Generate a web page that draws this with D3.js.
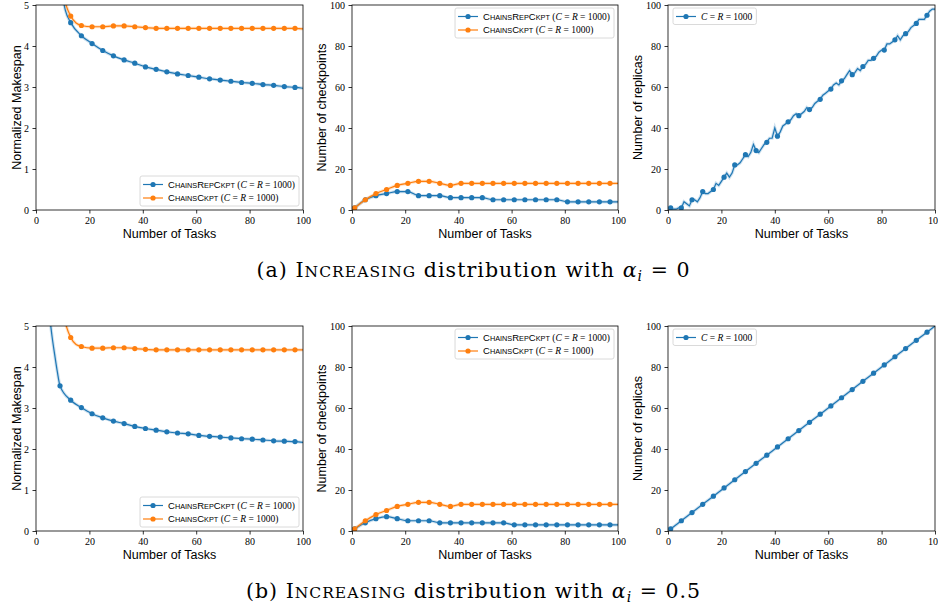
<!DOCTYPE html>
<html>
<head>
<meta charset="utf-8">
<script src="https://cdn.jsdelivr.net/npm/d3@7"></script>
<style>
  body { margin: 0; background: #fff; }
  svg { display: block; }
  .tick text { font-family: "Liberation Serif", serif; font-size: 10px; fill: #000; }
  .tick line { stroke: #000; stroke-width: 0.8; }
</style>
</head>
<body>
<svg id="fig" width="938" height="609"></svg>
<script>
"use strict";

// ---- data ----
var xTicks = [0, 20, 40, 60, 80, 100];
var makespanTicks = [0, 1, 2, 3, 4, 5];
var countTicks = [0, 20, 40, 60, 80, 100];

// (a) alpha_i = 0, normalized makespan
var spanRepTasksA = [9, 11, 13, 17, 21, 25, 29, 33, 37, 41, 45, 49, 53, 57, 61, 65, 69, 73, 77, 81, 85, 89, 93, 97, 100];
var spanRepA = [5.6, 4.87, 4.57, 4.25, 4.06, 3.89, 3.76, 3.66, 3.58, 3.49, 3.43, 3.37, 3.32, 3.28, 3.24, 3.20, 3.17, 3.14, 3.11, 3.09, 3.06, 3.04, 3.01, 2.99, 2.97];
var spanCkptTasksA = [9, 11, 13, 15, 17, 21, 25, 29, 33, 37, 41, 45, 49, 53, 57, 61, 65, 69, 73, 77, 81, 85, 89, 93, 97, 100];
var spanCkptA = [5.8, 5.06, 4.73, 4.56, 4.50, 4.47, 4.47, 4.49, 4.49, 4.47, 4.45, 4.43, 4.43, 4.43, 4.43, 4.43, 4.43, 4.43, 4.43, 4.43, 4.43, 4.43, 4.43, 4.43, 4.43, 4.42];

// (b) alpha_i = 0.5, normalized makespan
var spanRepTasksB = [5, 6, 7, 8, 9, 13, 17, 21, 25, 29, 33, 37, 41, 45, 49, 53, 57, 61, 65, 69, 73, 77, 81, 85, 89, 93, 97, 100];
var spanRepB = [5.3, 4.75, 4.3, 3.88, 3.54, 3.19, 3.01, 2.86, 2.76, 2.68, 2.62, 2.55, 2.50, 2.46, 2.42, 2.39, 2.37, 2.33, 2.31, 2.29, 2.27, 2.25, 2.24, 2.22, 2.20, 2.19, 2.18, 2.16];
var spanCkptTasksB = [9, 11, 13, 15, 17, 21, 25, 29, 33, 37, 41, 45, 49, 53, 57, 61, 65, 69, 73, 77, 81, 85, 89, 93, 97, 100];
var spanCkptB = [5.8, 5.08, 4.72, 4.55, 4.50, 4.46, 4.46, 4.47, 4.47, 4.45, 4.43, 4.42, 4.42, 4.42, 4.42, 4.42, 4.42, 4.42, 4.42, 4.42, 4.42, 4.42, 4.42, 4.42, 4.42, 4.42];

// checkpoints, sampled at the marker tasks
var markTasks = [1, 5, 9, 13, 17, 21, 25, 29, 33, 37, 41, 45, 49, 53, 57, 61, 65, 69, 73, 77, 81, 85, 89, 93, 97, 100];
var ckptRepA = [1, 5, 7, 8, 9, 9, 7, 7, 7, 6, 6, 6, 6, 5, 5, 5, 5, 5, 5, 5, 4, 4, 4, 4, 4, 4];
var ckptCkptA = [1, 5, 8, 10, 12, 13, 14, 14, 13, 12, 13, 13, 13, 13, 13, 13, 13, 13, 13, 13, 13, 13, 13, 13, 13, 13];
var ckptRepB = [1, 4, 6, 7, 6, 5, 5, 5, 4, 4, 4, 4, 4, 4, 4, 3, 3, 3, 3, 3, 3, 3, 3, 3, 3, 3];
var ckptCkptB = [1, 5, 8, 10, 12, 13, 14, 14, 13, 12, 13, 13, 13, 13, 13, 13, 13, 13, 13, 13, 13, 13, 13, 13, 13, 13];

// replicas
var allTasks = d3.range(1, 101);
var replicasA = [1, 0.4, 0.4, 1, 1, 4, 3, 2, 5, 5, 4, 6, 9, 8, 8, 9, 10, 13, 12, 14,
                 16, 18, 16, 18, 22, 22, 23, 25, 27, 26, 28, 32, 29, 28, 30, 32, 33, 35, 35, 40,
                 36, 38, 41, 42, 43, 44, 46, 47, 46, 47, 48, 50, 49, 50, 52, 53, 54, 56, 57, 58,
                 59, 61, 62, 61, 63, 64, 66, 68, 66, 67, 69, 68, 70, 71, 73, 73, 74, 75, 77, 78,
                 78, 81, 81, 82, 83, 85, 83, 85, 86, 87, 89, 90, 91, 93, 93, 93, 95, 97, 98, 98];
var replicasB = [1, 5, 9, 13, 17, 21, 25, 29, 33, 37, 41, 45, 49, 53, 57, 61, 65, 69, 73, 77, 81, 85, 89, 93, 97, 100];

var blue = "#1f77b4", orange = "#ff7f0e";
var repLabel = { caps: "ChainsRepCkpt", math: true };
var ckptLabel = { caps: "ChainsCkpt", math: true };
var mathOnly = { caps: null, math: true };

// ---- layout ----
var svg = d3.select("#fig");
var cols = [
  { left: 36, right: 303, ylabX: 17 },
  { left: 352, right: 618, ylabX: 322 },
  { left: 668, right: 935, ylabX: 638 }
];
var rows = [{ top: 5, bottom: 210 }, { top: 326, bottom: 531 }];

var panels = [
  { c: 0, r: 0, yMax: 5, yTicks: makespanTicks, ylabel: "Normalized Makespan", legend: "lr", curve: d3.curveMonotoneX,
    series: [{ t: spanRepTasksA, v: spanRepA, color: blue, label: repLabel },
             { t: spanCkptTasksA, v: spanCkptA, color: orange, label: ckptLabel }] },
  { c: 1, r: 0, yMax: 100, yTicks: countTicks, ylabel: "Number of checkpoints", legend: "ur", curve: d3.curveMonotoneX,
    series: [{ t: markTasks, v: ckptRepA, color: blue, label: repLabel },
             { t: markTasks, v: ckptCkptA, color: orange, label: ckptLabel }] },
  { c: 2, r: 0, yMax: 100, yTicks: countTicks, ylabel: "Number of replicas", legend: "ul", curve: d3.curveLinear,
    series: [{ t: allTasks, v: replicasA, color: blue, label: mathOnly }] },
  { c: 0, r: 1, yMax: 5, yTicks: makespanTicks, ylabel: "Normalized Makespan", legend: "lr", curve: d3.curveMonotoneX,
    series: [{ t: spanRepTasksB, v: spanRepB, color: blue, label: repLabel },
             { t: spanCkptTasksB, v: spanCkptB, color: orange, label: ckptLabel }] },
  { c: 1, r: 1, yMax: 100, yTicks: countTicks, ylabel: "Number of checkpoints", legend: "ur", curve: d3.curveMonotoneX,
    series: [{ t: markTasks, v: ckptRepB, color: blue, label: repLabel },
             { t: markTasks, v: ckptCkptB, color: orange, label: ckptLabel }] },
  { c: 2, r: 1, yMax: 100, yTicks: countTicks, ylabel: "Number of replicas", legend: "ul", curve: d3.curveLinear,
    series: [{ t: markTasks, v: replicasB, color: blue, label: mathOnly }] }
];

// Small caps made of two font sizes
function capsSpans(text, str, big, small, family) {
  var runs = [];
  for (var i = 0; i < str.length; i++) {
    var ch = str[i];
    var up = ch === ch.toUpperCase();
    var size = up ? big : small;
    if (runs.length && runs[runs.length - 1].size === size) runs[runs.length - 1].s += ch.toUpperCase();
    else runs.push({ size: size, s: ch.toUpperCase() });
  }
  runs.forEach(function (r) {
    text.append("tspan").attr("font-family", family).attr("font-size", r.size).text(r.s);
  });
}

function mathSpans(text, withParens) {
  var f = "Liberation Serif, serif";
  text.append("tspan").attr("font-family", f).attr("font-size", 9.5).text(withParens ? " (" : "");
  text.append("tspan").attr("font-family", f).attr("font-size", 9.5).attr("font-style", "italic").text("C");
  text.append("tspan").attr("font-family", f).attr("font-size", 9.5).text(" = ");
  text.append("tspan").attr("font-family", f).attr("font-size", 9.5).attr("font-style", "italic").text("R");
  text.append("tspan").attr("font-family", f).attr("font-size", 9.5).text(" = 1000" + (withParens ? ")" : ""));
}

panels.forEach(function (p, idx) {
  var col = cols[p.c], row = rows[p.r];
  var x = d3.scaleLinear().domain([0, 100]).range([col.left, col.right]);
  var y = d3.scaleLinear().domain([0, p.yMax]).range([row.bottom, row.top]);
  var g = svg.append("g");

  g.append("clipPath").attr("id", "clip" + idx)
    .append("rect").attr("x", col.left).attr("y", row.top)
    .attr("width", col.right - col.left).attr("height", row.bottom - row.top);

  var xAxis = g.append("g").attr("transform", "translate(0," + row.bottom + ")")
    .call(d3.axisBottom(x).tickValues(xTicks).tickSize(3.5).tickPadding(3.5).tickFormat(d3.format("d")));
  xAxis.select(".domain").remove();
  var yAxis = g.append("g").attr("transform", "translate(" + col.left + ",0)")
    .call(d3.axisLeft(y).tickValues(p.yTicks).tickSize(3.5).tickPadding(3.5).tickFormat(d3.format("d")));
  yAxis.select(".domain").remove();

  var plot = g.append("g").attr("clip-path", "url(#clip" + idx + ")");
  p.series.forEach(function (s) {
    var pts = s.t.map(function (t, i) { return [t, s.v[i]]; });
    var line = d3.line().x(function (d) { return x(d[0]); }).y(function (d) { return y(d[1]); }).curve(p.curve);
    // faint band under the line
    plot.append("path").attr("d", line(pts)).attr("fill", "none")
      .attr("stroke", s.color).attr("stroke-opacity", 0.22).attr("stroke-width", 3.2);
    plot.append("path").attr("d", line(pts)).attr("fill", "none")
      .attr("stroke", s.color).attr("stroke-width", 1.2);
    plot.selectAll(null)
      .data(pts.filter(function (d) { return (d[0] - 1) % 4 === 0; }))
      .enter().append("circle")
      .attr("cx", function (d) { return x(d[0]); })
      .attr("cy", function (d) { return y(d[1]); })
      .attr("r", 2.6).attr("fill", s.color);
  });

  g.append("rect").attr("x", col.left).attr("y", row.top)
    .attr("width", col.right - col.left).attr("height", row.bottom - row.top)
    .attr("fill", "none").attr("stroke", "#000").attr("stroke-width", 0.8);

  g.append("text").attr("x", (col.left + col.right) / 2).attr("y", row.bottom + 28)
    .attr("text-anchor", "middle").attr("font-family", "Liberation Sans, Arial, sans-serif")
    .attr("font-size", 12.5).text("Number of Tasks");
  g.append("text")
    .attr("transform", "translate(" + (col.ylabX + 4) + "," + ((row.top + row.bottom) / 2) + ") rotate(-90)")
    .attr("text-anchor", "middle").attr("font-family", "Liberation Sans, Arial, sans-serif")
    .attr("font-size", 12.5).text(p.ylabel);

  // legend
  var lg = g.append("g");
  var box = lg.append("rect").attr("rx", 2).attr("fill", "#fff").attr("fill-opacity", 0.85)
    .attr("stroke", "#d0d0d0").attr("stroke-width", 0.8);
  var maxW = 0;
  p.series.forEach(function (s, i) {
    var cy = 8.5 + i * 13.5;
    lg.append("line").attr("x1", 3).attr("x2", 23).attr("y1", cy).attr("y2", cy)
      .attr("stroke", s.color).attr("stroke-width", 1.2);
    lg.append("circle").attr("cx", 13).attr("cy", cy).attr("r", 2.6).attr("fill", s.color);
    var t = lg.append("text").attr("x", 28).attr("y", cy + 3.3);
    if (s.label.caps) {
      capsSpans(t, s.label.caps, 9.5, 7.3, "Liberation Sans, Arial, sans-serif");
      mathSpans(t, true);
    } else {
      mathSpans(t, false);
    }
    maxW = Math.max(maxW, t.node().getComputedTextLength());
  });
  var bw = 28 + maxW + 4, bh = p.series.length * 13.5 + 3;
  box.attr("width", bw).attr("height", bh);
  var lx, ly;
  if (p.legend === "lr") { lx = col.right - 4 - bw; ly = row.bottom - 4 - bh; }
  else if (p.legend === "ur") { lx = col.right - 4 - bw; ly = row.top + 3; }
  else { lx = col.left + 5; ly = row.top + 3; }
  lg.attr("transform", "translate(" + lx + "," + ly + ")");
});

// captions, fitted to the width of the original Computer Modern setting
function caption(yBase, letter, alphaVal, width) {
  var f = "DejaVu Serif, serif";
  var t = svg.append("text").attr("x", 473).attr("y", yBase).attr("text-anchor", "middle")
    .attr("font-family", f).attr("font-size", 20.5)
    .attr("textLength", width).attr("lengthAdjust", "spacing");
  t.append("tspan").text("(" + letter + ") ");
  capsSpans(t, "Increasing", 20.5, 15.5, f);
  t.append("tspan").text(" distribution with ");
  t.append("tspan").attr("font-style", "italic").text("α");
  t.append("tspan").attr("font-style", "italic").attr("font-size", 14).attr("dy", 4).text("i");
  t.append("tspan").attr("dy", -4).text(" = " + alphaVal);
}
caption(277, "a", "0", 433);
caption(598, "b", "0.5", 454);
</script>
</body>
</html>
